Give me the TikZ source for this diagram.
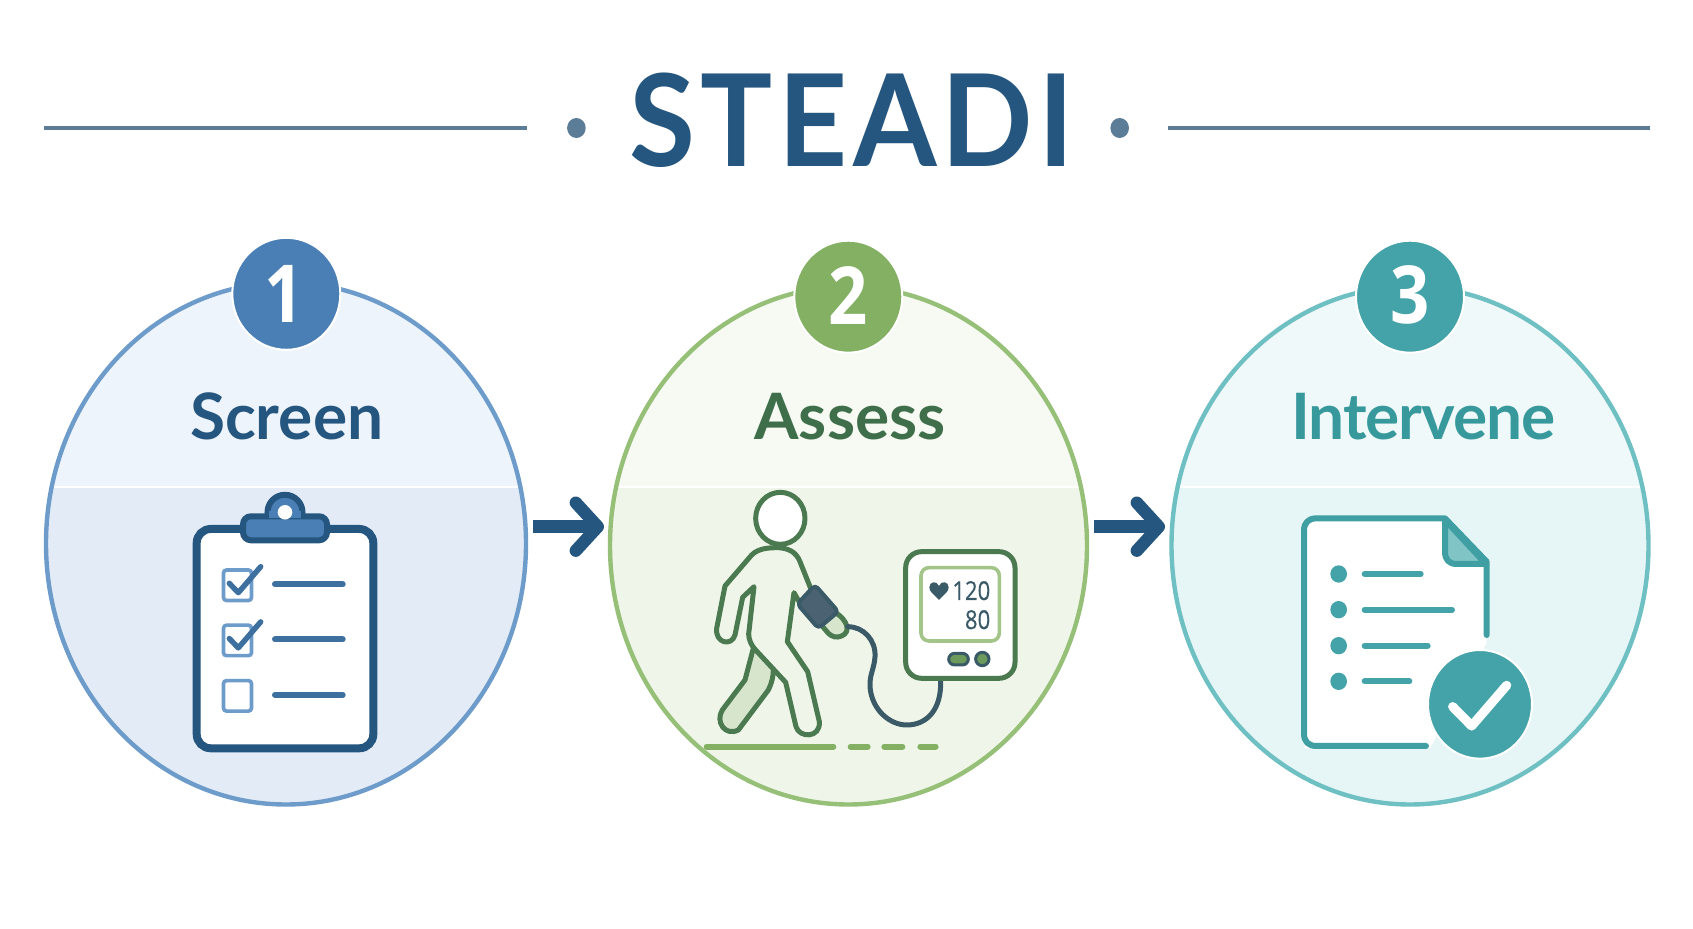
\documentclass[tikz,border=0pt]{standalone}
\usepackage{fontspec}
\setmainfont{Lato}
\newfontfamily\digitfont[FakeStretch=0.86]{Open Sans}
\newfontfamily\readfont[FakeStretch=0.85,FakeBold=0.5]{Open Sans}
\newfontfamily\titlefont[FakeStretch=0.94,LetterSpace=4.2]{Lato}
\newfontfamily\tightfont[LetterSpace=-1.7]{Lato}
\usetikzlibrary{shapes.geometric,arrows.meta}
\definecolor{navy}{HTML}{25567F}
\definecolor{slateline}{HTML}{5C7D98}
\definecolor{blueedge}{HTML}{6D9CCB}
\definecolor{blueup}{HTML}{EEF4FB}
\definecolor{bluelow}{HTML}{E3EBF6}
\definecolor{bluebadge}{HTML}{4A7FB5}
\definecolor{bluemid}{HTML}{3D6F9F}
\definecolor{greenedge}{HTML}{96C077}
\definecolor{greenup}{HTML}{F6FAF3}
\definecolor{greenlow}{HTML}{EFF6E9}
\definecolor{greenbadge}{HTML}{83B063}
\definecolor{greenbutton}{HTML}{6B9A5A}
\definecolor{greentext}{HTML}{3F6E4A}
\definecolor{greenstroke}{HTML}{4C7A50}
\definecolor{greenpale}{HTML}{D8E5CD}
\definecolor{greenscreen}{HTML}{A3C58A}
\definecolor{dkslate}{HTML}{3B5A68}
\definecolor{cuffcol}{HTML}{4A6272}
\definecolor{tealedge}{HTML}{6FC0C3}
\definecolor{tealup}{HTML}{F0F9FA}
\definecolor{teallow}{HTML}{E6F5F5}
\definecolor{tealbadge}{HTML}{43A3A8}
\definecolor{tealtext}{HTML}{38999D}
\definecolor{tealstroke}{HTML}{3F9FA3}
\definecolor{tealfold}{HTML}{80C4C6}
\tikzset{
  disc/.style={ellipse,draw=#1,line width=2.2pt,inner sep=0pt,outer sep=0pt},
  badge/.style={ellipse,fill=#1,draw=white,line width=1pt,minimum width=54pt,minimum height=56pt,inner sep=0pt},
  numeral/.style={anchor=base,inner sep=0pt,text=white,font=\digitfont\fontsize{40}{44}\selectfont\bfseries},
  steplabel/.style={anchor=base,inner sep=0pt,font=\fontsize{32}{36}\selectfont\bfseries},
  rulehead/.style={draw=slateline,line width=2pt},
  flow/.style={draw=navy,line width=6.2pt,-{Straight Barb[round,length=11pt,width=24pt]}},
  cbox/.style={draw=blueedge,fill=white,line width=1.8pt,rounded corners=1.5pt},
  ctick/.style={draw=bluemid,line width=2.7pt,line cap=round,line join=round},
  cline/.style={draw=bluemid,line width=3pt,line cap=round},
  pers/.style={draw=greenstroke,line width=2.5pt,line join=round,line cap=round},
  gnd/.style={draw=greenbadge,line width=3pt,line cap=round},
  dline/.style={draw=tealbadge,line width=3pt,line cap=round},
  readout/.style={anchor=base east,inner sep=0pt,text=dkslate,font=\readfont\fontsize{13}{15}\selectfont}
}
\begin{document}
\begin{tikzpicture}[x=0.5pt,y=-0.5pt]
\useasboundingbox (0,0) rectangle (1693,929);
\fill[white] (0,0) rectangle (1693,929);
% header
\coordinate (r1a) at (44,128); \coordinate (r1b) at (527,128);
\coordinate (r2a) at (1168,128); \coordinate (r2b) at (1650,128);
\draw[rulehead] (r1a) -- (r1b);
\draw[rulehead] (r2a) -- (r2b);
\fill[slateline] (576.4,128) ellipse [x radius=9.3,y radius=10];
\fill[slateline] (1119.7,128) ellipse [x radius=9.3,y radius=10];
\node[anchor=base,inner sep=0pt,text=navy,font=\titlefont\fontsize{64}{70}\selectfont\bfseries] (title) at (852,167) {STEADI};
% stage discs
\begin{scope}
\clip (286,543.5) ellipse [x radius=240,y radius=261];
\fill[blueup] (0,200) rectangle (600,487);
\fill[bluelow] (0,487) rectangle (600,900);
\draw[white,line width=1.2pt] (0,487) -- (600,487);
\end{scope}
\node[disc=blueedge,minimum width=240pt,minimum height=261pt] (c1) at (286,543.5) {};
\begin{scope}
\clip (848.5,545.5) ellipse [x radius=238.5,y radius=259];
\fill[greenup] (600,200) rectangle (1100,487);
\fill[greenlow] (600,487) rectangle (1100,900);
\draw[white,line width=1.2pt] (600,487) -- (1100,487);
\end{scope}
\node[disc=greenedge,minimum width=238.5pt,minimum height=259pt] (c2) at (848.5,545.5) {};
\begin{scope}
\clip (1410,545.5) ellipse [x radius=238.5,y radius=259];
\fill[tealup] (1150,200) rectangle (1670,487);
\fill[teallow] (1150,487) rectangle (1670,900);
\draw[white,line width=1.2pt] (1150,487) -- (1670,487);
\end{scope}
\node[disc=tealedge,minimum width=238.5pt,minimum height=259pt] (c3) at (1410,545.5) {};
% badges
\node[badge=bluebadge] (b1) at (286.3,293.8) {};
\node[badge=greenbadge] (b2) at (848.3,296.7) {};
\node[badge=tealbadge] (b3) at (1410,296.7) {};
\node[numeral] (n1) at (284,322.3) {1};
\node[numeral] (n2) at (848.5,324.3) {2};
\node[numeral] (n3) at (1410,323.5) {3};
% labels
\node[steplabel,text=navy] (l1) at (286.7,440) {Screen};
\node[steplabel,text=greentext] (l2) at (850,440) {Assess};
\node[steplabel,text=tealtext,font=\tightfont\fontsize{32}{36}\selectfont\bfseries] (l3) at (1423.5,440) {Intervene};
% arrows
\coordinate (a1s) at (533,526.7); \coordinate (a1t) at (604,526.7);
\coordinate (a2s) at (1094,526.7); \coordinate (a2t) at (1165,526.7);
\draw[flow] (a1s) -- (a1t);
\draw[flow] (a2s) -- (a2t);
% clipboard
\draw[navy,fill=white,line width=4pt,rounded corners=7pt] (196.7,529) rectangle (373.3,748.3);
\fill[bluebadge] (285,512.3) circle [radius=17];
\draw[navy,line width=3pt] (285,512.3) circle [radius=17.5];
\draw[navy,fill=bluebadge,line width=3pt,rounded corners=4pt] (243,516.3) rectangle (327,540.3);
\fill[bluebadge] (269,511) rectangle (301,518);
\fill[white] (285,512.3) circle [radius=7.3];
\foreach \dy in {0,55.2,110.6}{
  \draw[cbox] (223.5,570+\dy) rectangle (251.5,600.5+\dy);
  \draw[cline] (275,584.3+\dy) -- (342.7,584.3+\dy);
}
\foreach \dy in {0,55.2}{
  \draw[ctick] (229.3,583.3+\dy) -- (238.3,592.7+\dy) -- (260.7,566.7+\dy);
}
% person and monitor
\begin{scope}[shift={(690,480)},scale=0.33333]
\draw[pers,fill=greenpale] (190,505) -- (165,600) -- (97,690) .. controls (75,725) and (105,770) .. (145,750) -- (235,630) .. controls (245,610) and (250,590) .. (250,570);
\draw[pers,fill=greenlow] (362,325) -- (330,245) .. controls (318,215) and (295,205) .. (265,203) .. controls (235,203) and (205,205) .. (185,225) -- (105,318) -- (80,445) .. controls (75,490) and (125,500) .. (135,465) -- (158,352) -- (192,320) -- (176,462) .. controls (176,480) and (185,497) .. (195,508) -- (287,607) -- (318,740) .. controls (328,775) and (392,775) .. (388,725) -- (353,575) -- (292,485) -- (312,338) -- (330,370);
\draw[pers,fill=white] (271,115) ellipse [x radius=74,y radius=78];
\draw[pers,fill=greenpale] (440,400) .. controls (470,420) and (485,455) .. (455,468) .. controls (440,475) and (425,470) .. (415,460) -- (398,440);
\draw[dkslate,line width=2.5pt,line cap=round] (473,440) .. controls (520,440) and (558,480) .. (555,530) .. controls (553,565) and (538,585) .. (540,620) .. controls (545,690) and (600,735) .. (650,735) .. controls (710,735) and (755,690) .. (752,600);
\draw[dkslate,fill=cuffcol,line width=2pt,rounded corners=2pt,line join=round] (375,315) -- (445,395) -- (385,445) -- (322,372) -- cycle;
\draw[greenstroke,fill=white,line width=2.5pt,rounded corners=8pt] (647,215) rectangle (975,595);
\draw[greenscreen,fill=white,line width=1.8pt,rounded corners=4pt] (693,263) rectangle (928,483);
\fill[dkslate] (747,360) .. controls (730,342) and (718,335) .. (718,322) .. controls (718,305) and (740,300) .. (747,318) .. controls (754,300) and (776,305) .. (776,322) .. controls (776,335) and (764,342) .. (747,360) -- cycle;
\node[readout] (bp1) at (902,360) {120};
\node[readout] (bp2) at (902,447) {80};
\draw[dkslate,fill=greenbutton,line width=1.5pt,rounded corners=3pt] (776,520) rectangle (835,555);
\draw[dkslate,fill=greenbutton,line width=1.5pt] (877,537) circle [radius=20];
\draw[gnd] (50,800) -- (430,800);
\draw[gnd] (482,800) -- (533,800);
\draw[gnd] (583,800) -- (637,800);
\draw[gnd] (691,800) -- (737,800);
\end{scope}
% document
\begin{scope}[shift={(1280,500)},scale=0.33333]
\fill[white] (72,55) -- (495,55) -- (620,185) -- (620,430) -- (450,745) -- (72,745) -- cycle;
\draw[tealstroke,line width=3pt,line cap=round,line join=round] (438,738) -- (110,738) .. controls (85,738) and (72,725) .. (72,700) -- (72,92) .. controls (72,68) and (85,55) .. (110,55) -- (495,55) -- (620,185) -- (620,405);
\draw[tealstroke,fill=tealfold,line width=3pt,line join=round] (495,60) -- (495,155) .. controls (495,180) and (508,192) .. (530,192) -- (618,192) -- cycle;
\foreach \yy/\xx in {222/430,329/524,437/451,544/396}{
  \fill[tealbadge] (176,\yy) ellipse [x radius=25,y radius=26];
  \draw[dline] (254,\yy) -- (\xx-8,\yy);
}
\draw[white,line width=1pt,fill=tealbadge] (600,613) ellipse [x radius=156,y radius=163];
\draw[white,line width=4.6pt,line cap=round,line join=round] (518,620) -- (575,678) -- (680,556);
\end{scope}
\end{tikzpicture}
\end{document}
